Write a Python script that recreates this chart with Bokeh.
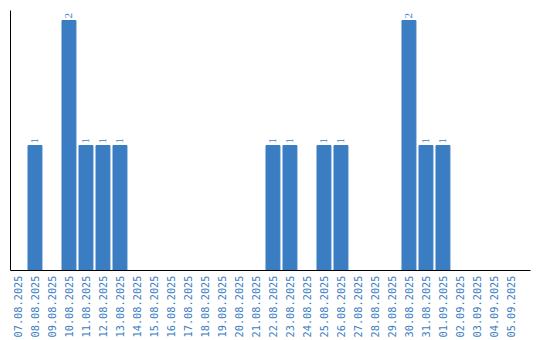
from bokeh.plotting import figure
from bokeh.models import ColumnDataSource, Range1d, FixedTicker, LabelSet
from bokeh.embed import file_html
from bokeh.resources import INLINE
import math

dates = ["07.08.2025", "08.08.2025", "09.08.2025", "10.08.2025", "11.08.2025",
         "12.08.2025", "13.08.2025", "14.08.2025", "15.08.2025", "16.08.2025",
         "17.08.2025", "18.08.2025", "19.08.2025", "20.08.2025", "21.08.2025",
         "22.08.2025", "23.08.2025", "24.08.2025", "25.08.2025", "26.08.2025",
         "27.08.2025", "28.08.2025", "29.08.2025", "30.08.2025", "31.08.2025",
         "01.09.2025", "02.09.2025", "03.09.2025", "04.09.2025", "05.09.2025"]
counts = [0, 1, 0, 2, 1, 1, 1, 0, 0, 0,
          0, 0, 0, 0, 0, 1, 1, 0, 1, 1,
          0, 0, 0, 2, 1, 1, 0, 0, 0, 0]

BLUE = "#3b7dc2"

xs = list(range(len(dates)))
src = ColumnDataSource(dict(x=xs, y=counts))
lab_x = [x for x, c in zip(xs, counts) if c > 0]
lab_y = [c for c in counts if c > 0]
lab_src = ColumnDataSource(dict(x=lab_x, y=lab_y, t=[str(c) for c in lab_y]))

p = figure(width=540, height=340, output_backend="svg", toolbar_location=None,
           x_range=Range1d(-0.44, 30.15), y_range=Range1d(0, 2.08),
           min_border_left=10, min_border_right=10, min_border_top=10, min_border_bottom=0)
p.vbar(x="x", top="y", width=0.82, source=src, color=BLUE)

labels = LabelSet(x="x", y="y", text="t", source=lab_src, angle=math.pi / 2,
                  text_align="left", text_baseline="middle", y_offset=2,
                  text_color=BLUE, text_font="DejaVu Sans Mono", text_font_size="11px")
p.add_layout(labels)

p.xgrid.visible = False
p.ygrid.visible = False
p.outline_line_color = None
p.background_fill_color = "white"
p.border_fill_color = "white"

xa = p.xaxis[0]
xa.ticker = FixedTicker(ticks=xs)
xa.major_label_overrides = {i: d for i, d in enumerate(dates)}
xa.major_label_orientation = math.pi / 2
xa.major_tick_line_color = None
xa.minor_tick_line_color = None
xa.major_tick_out = 0
xa.major_tick_in = 0
xa.minor_tick_out = 0
xa.major_label_standoff = 5
xa.major_label_text_color = BLUE
xa.major_label_text_font = "DejaVu Sans Mono"
xa.major_label_text_font_size = "10.3px"
xa.axis_line_color = "black"

ya = p.yaxis[0]
ya.ticker = FixedTicker(ticks=[])
ya.major_tick_line_color = None
ya.minor_tick_line_color = None
ya.major_label_text_font_size = "0px"
ya.axis_line_color = "black"
ya.major_tick_out = 0
ya.major_tick_in = 0
ya.minor_tick_out = 0
ya.major_label_standoff = 0

open("out.html", "w").write(file_html(p, INLINE))
